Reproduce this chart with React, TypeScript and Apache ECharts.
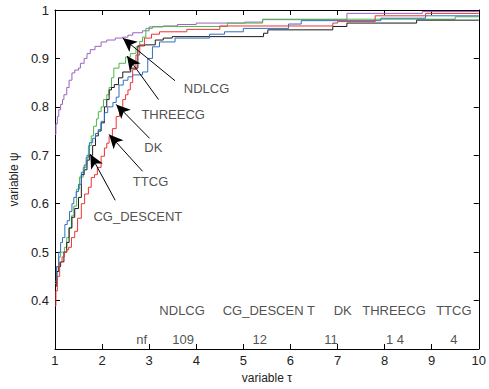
import React, { useEffect, useRef } from "react";
import * as echarts from "echarts";

const ndlcgX = [1, 1.02, 1.05, 1.08, 1.12, 1.16, 1.19, 1.25, 1.3, 1.36, 1.42, 1.5, 1.54, 1.62, 1.68, 1.75, 1.85, 1.98, 2.1, 2.28, 2.44, 2.55, 2.65, 2.86, 3.0, 3.3, 3.6, 4.0, 5.03, 5.41, 7.2, 8.8, 10];
const ndlcgY = [0.743, 0.765, 0.78, 0.794, 0.805, 0.815, 0.825, 0.84, 0.855, 0.87, 0.876, 0.88, 0.89, 0.9, 0.91, 0.918, 0.925, 0.934, 0.938, 0.942, 0.944, 0.948, 0.953, 0.957, 0.965, 0.967, 0.97, 0.973, 0.975, 0.98, 0.993, 0.997, 0.997];

const threecgX = [1, 1.04, 1.08, 1.12, 1.16, 1.2, 1.25, 1.3, 1.35, 1.4, 1.46, 1.52, 1.6, 1.66, 1.71, 1.77, 1.82, 1.88, 1.92, 1.98, 2.03, 2.1, 2.15, 2.2, 2.25, 2.36, 2.5, 2.6, 2.72, 2.8, 2.86, 2.93, 3.07, 4.66, 5.41, 9.5, 10];
const threecgY = [0.435, 0.47, 0.49, 0.5, 0.5, 0.51, 0.53, 0.55, 0.575, 0.595, 0.63, 0.655, 0.675, 0.695, 0.72, 0.74, 0.76, 0.775, 0.79, 0.8, 0.815, 0.825, 0.84, 0.86, 0.88, 0.89, 0.903, 0.91, 0.924, 0.935, 0.944, 0.962, 0.966, 0.973, 0.981, 0.986, 0.986];

const dkX = [1, 1.04, 1.08, 1.12, 1.19, 1.25, 1.3, 1.36, 1.42, 1.5, 1.56, 1.62, 1.68, 1.73, 1.8, 1.86, 1.92, 1.98, 2.05, 2.1, 2.15, 2.2, 2.26, 2.35, 2.44, 2.61, 2.76, 2.9, 3.13, 3.3, 3.49, 5.43, 5.52, 6.9, 7.2, 8.68, 10];
const dkY = [0.43, 0.46, 0.47, 0.48, 0.5, 0.52, 0.55, 0.572, 0.59, 0.613, 0.66, 0.67, 0.69, 0.7, 0.72, 0.74, 0.75, 0.767, 0.8, 0.815, 0.835, 0.84, 0.846, 0.86, 0.872, 0.88, 0.926, 0.928, 0.938, 0.942, 0.945, 0.952, 0.959, 0.966, 0.973, 0.979, 0.979];

const cgDescentX = [1, 1.03, 1.08, 1.12, 1.16, 1.21, 1.26, 1.31, 1.36, 1.4, 1.45, 1.5, 1.56, 1.62, 1.68, 1.73, 1.8, 1.86, 1.92, 1.98, 2.05, 2.12, 2.23, 2.3, 2.36, 2.45, 2.55, 2.65, 2.86, 2.97, 3.07, 3.22, 3.55, 4.28, 4.6, 5.0, 5.96, 6.23, 7.92, 8.87, 10];
const cgDescentY = [0.44, 0.47, 0.5, 0.52, 0.53, 0.557, 0.565, 0.584, 0.6, 0.613, 0.625, 0.64, 0.665, 0.68, 0.7, 0.726, 0.735, 0.745, 0.753, 0.77, 0.788, 0.8, 0.809, 0.82, 0.845, 0.855, 0.862, 0.866, 0.872, 0.9, 0.924, 0.934, 0.942, 0.95, 0.955, 0.962, 0.971, 0.978, 0.983, 0.988, 0.988];

const ttcgX = [1, 1.02, 1.05, 1.1, 1.15, 1.2, 1.25, 1.29, 1.35, 1.42, 1.48, 1.56, 1.63, 1.71, 1.77, 1.84, 1.9, 1.98, 2.05, 2.1, 2.15, 2.22, 2.3, 2.37, 2.44, 2.5, 2.55, 2.6, 2.65, 2.72, 2.8, 2.9, 3.05, 3.22, 3.8, 4.5, 6.9, 7.0, 7.8, 8.87, 10];
const ttcgY = [0.389, 0.42, 0.45, 0.479, 0.49, 0.5, 0.505, 0.51, 0.53, 0.543, 0.57, 0.6, 0.62, 0.634, 0.654, 0.66, 0.675, 0.698, 0.715, 0.725, 0.739, 0.755, 0.78, 0.795, 0.815, 0.825, 0.835, 0.85, 0.877, 0.907, 0.928, 0.942, 0.95, 0.955, 0.96, 0.967, 0.973, 0.976, 0.988, 0.993, 0.993];

const seriesNames = ["NDLCG", "THREECG", "DK", "CG_DESCENT", "TTCG"];
const seriesColors = ["#9b63c0", "#4cb84c", "#1a1a1a", "#2f6fc4", "#ee3333"];

// Annotation labels (text position) and arrow (tail -> tip) in data units
const annoNames = ["NDLCG", "THREECG", "DK", "TTCG", "CG_DESCENT"];
const annoTextX = [4.22, 3.51, 3.09, 3.03, 2.76];
const annoTextY = [0.837, 0.784, 0.716, 0.646, 0.574];
const arrowTailX = [3.55, 3.2, 3.01, 2.86, 2.28];
const arrowTailY = [0.854, 0.815, 0.735, 0.667, 0.607];
const arrowTipX = [2.44, 2.53, 2.3, 2.15, 1.75];
const arrowTipY = [0.942, 0.905, 0.805, 0.743, 0.702];

// Summary table at the bottom
const summaryNames = ["NDLCG", "CG_DESCEN T", "DK", "THREECG", "TTCG"];
const summaryNameX = [3.7, 5.54, 7.11, 8.2, 9.47];
const summaryNameY = 0.379;
const summaryCounts = ["nf", "109", "12", "11", "1 4", "4"];
const summaryCountX = [2.84, 3.72, 5.35, 6.86, 8.22, 9.47];
const summaryCountY = 0.319;

const xTicksMin = 1;
const xTicksMax = 10;
const yMin = 0.3;
const yMax = 1;

export default function App() {
  const ref = useRef<HTMLDivElement>(null);
  useEffect(() => {
    if (!ref.current) return;
    const chart = echarts.init(ref.current, undefined, { renderer: "svg" });
    const font = "Liberation Sans, Arial, Helvetica, sans-serif";
    const xs = [ndlcgX, threecgX, dkX, cgDescentX, ttcgX];
    const ys = [ndlcgY, threecgY, dkY, cgDescentY, ttcgY];
    const lineSeries = seriesNames.map((name, i) => ({
      name,
      type: "line",
      step: "end",
      showSymbol: false,
      symbol: "none",
      data: xs[i].map((x, j) => [x, ys[i][j]]),
      lineStyle: { color: seriesColors[i], width: 1 },
      itemStyle: { color: seriesColors[i] },
      silent: true,
      z: 2,
    }));
    const textPoints: any[] = [];
    annoNames.forEach((n, i) => textPoints.push({ name: n, value: [annoTextX[i], annoTextY[i]] }));
    summaryNames.forEach((n, i) => textPoints.push({ name: n, value: [summaryNameX[i], summaryNameY] }));
    summaryCounts.forEach((n, i) => textPoints.push({ name: n, value: [summaryCountX[i], summaryCountY] }));

    const arrowData = annoNames.map((_, i) => [
      { coord: [arrowTailX[i], arrowTailY[i]], symbol: "none" },
      { coord: [arrowTipX[i], arrowTipY[i]], symbol: "arrow", symbolSize: [10, 14] },
    ]);

    const axisCommon = {
      axisLine: { show: true, lineStyle: { color: "#000", width: 1 } },
      axisTick: { show: true, inside: true, length: 5, lineStyle: { color: "#000" } },
      splitLine: { show: false },
    };

    chart.setOption({
      animation: false,
      backgroundColor: "#fff",
      textStyle: { fontFamily: font },
      grid: { left: 51, right: 8, top: 10, bottom: 40, containLabel: false },
      xAxis: [
        {
          type: "value",
          min: xTicksMin,
          max: xTicksMax,
          interval: 1,
          position: "bottom",
          name: "variable τ",
          nameLocation: "middle",
          nameGap: 21,
          nameTextStyle: { color: "#222", fontSize: 12, fontFamily: font },
          axisLabel: { color: "#222", fontSize: 13, margin: 5, fontFamily: font },
          ...axisCommon,
        },
        {
          type: "value",
          min: xTicksMin,
          max: xTicksMax,
          interval: 1,
          position: "top",
          axisLabel: { show: false },
          ...axisCommon,
        },
      ],
      yAxis: [
        {
          type: "value",
          min: yMin,
          max: yMax,
          interval: 0.1,
          position: "left",
          name: "variable ψ",
          nameLocation: "middle",
          nameGap: 30,
          nameTextStyle: { color: "#222", fontSize: 12, fontFamily: font },
          axisLabel: {
            color: "#222",
            fontSize: 13,
            margin: 6,
            fontFamily: font,
            formatter: (v: number) => (v < 0.35 ? "" : String(Math.round(v * 10) / 10)),
          },
          ...axisCommon,
        },
        {
          type: "value",
          min: yMin,
          max: yMax,
          interval: 0.1,
          position: "right",
          axisLabel: { show: false },
          ...axisCommon,
        },
      ],
      series: [
        ...lineSeries,
        {
          type: "scatter",
          data: textPoints,
          symbolSize: 1,
          itemStyle: { color: "rgba(0,0,0,0)" },
          silent: true,
          z: 5,
          label: {
            show: true,
            position: "inside",
            formatter: "{b}",
            color: "#222",
            fontSize: 13,
            fontFamily: font,
          },
          labelLayout: { hideOverlap: false },
          markLine: {
            silent: true,
            animation: false,
            label: { show: false },
            lineStyle: { color: "#000", width: 1, type: "solid" },
            data: arrowData,
          },
        },
      ],
    });
    return () => chart.dispose();
  }, []);
  return (
    <div style={{ position: "fixed", left: 0, top: 0, width: 489, height: 389, background: "#fff" }}>
      <div ref={ref} style={{ width: 489, height: 389 }} />
    </div>
  );
}
